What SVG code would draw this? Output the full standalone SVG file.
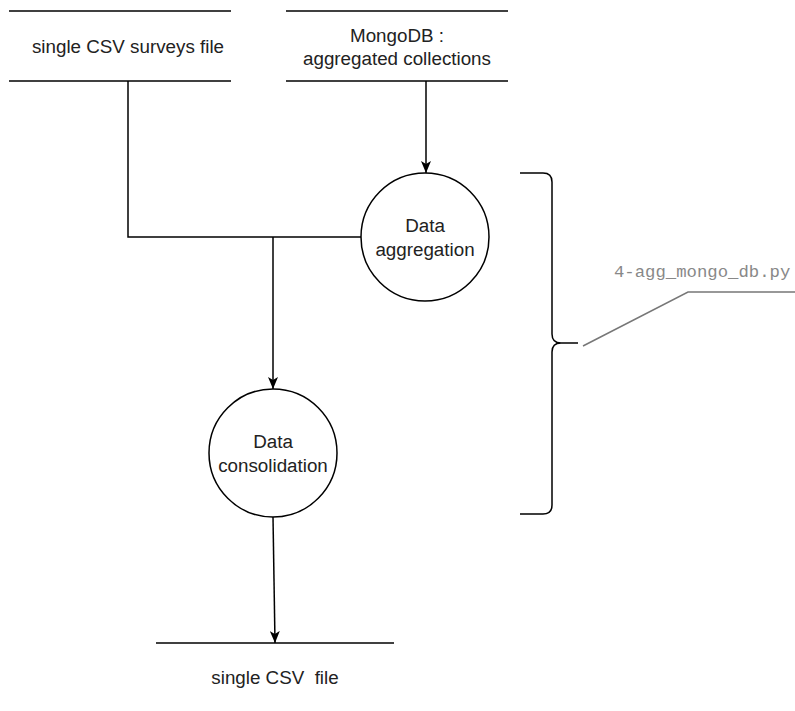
<svg xmlns="http://www.w3.org/2000/svg" width="795" height="711" viewBox="0 0 795 711">
<style>
.ln{stroke:#000;stroke-width:1.5;fill:none}
.nd{fill:#fff;stroke:#000;stroke-width:1.5}
.t{font-family:"Liberation Sans",Arial,sans-serif;font-size:18.8px;fill:#222;text-anchor:middle}
.mono{font-family:"Liberation Mono","Courier New",monospace;font-size:17.3px;fill:#888}
</style>
<defs>
<marker id="arr" viewBox="0 0 12 10" refX="12" refY="5" markerWidth="12" markerHeight="10" markerUnits="userSpaceOnUse" orient="auto">
<path d="M0,0 L12,5 L0,10 L3,5 Z" fill="#000"/>
</marker>
</defs>
<rect width="795" height="711" fill="#fff"/>
<g id="connectors">
<path class="ln" d="M426,81 L426,173" marker-end="url(#arr)"/>
<path class="ln" d="M128,81 L128,237 L361,237"/>
<path class="ln" d="M273,237 L273,389" marker-end="url(#arr)"/>
<path class="ln" d="M273,517 L275,643" marker-end="url(#arr)"/>
</g>
<g id="store-csv-surveys">
<line class="ln" x1="9" y1="11" x2="231" y2="11"/>
<line class="ln" x1="9" y1="81" x2="231" y2="81"/>
<text class="t" x="128" y="53">single CSV surveys file</text>
</g>
<g id="store-mongodb">
<line class="ln" x1="286" y1="11" x2="508" y2="11"/>
<line class="ln" x1="286" y1="81" x2="508" y2="81"/>
<text class="t" x="397" y="42">MongoDB :</text>
<text class="t" x="397" y="65">aggregated collections</text>
</g>
<g id="proc-aggregation">
<circle class="nd" cx="425" cy="237" r="64"/>
<text class="t" x="425" y="232">Data</text>
<text class="t" x="425" y="256">aggregation</text>
</g>
<g id="proc-consolidation">
<circle class="nd" cx="273" cy="453" r="64"/>
<text class="t" x="273" y="448">Data</text>
<text class="t" x="273" y="472">consolidation</text>
</g>
<g id="store-csv-out">
<line class="ln" x1="156" y1="643" x2="394" y2="643"/>
<text class="t" x="275" y="684" xml:space="preserve">single CSV  file</text>
</g>
<g id="brace-annotation">
<path class="ln" d="M520,173 L543,173 Q552,173 552,182 L552,334 Q552,343 561,343 L578,343 M561,343 Q552,343 552,352 L552,505 Q552,514 543,514 L520,514"/>
<path d="M583,346 L688,292 L795,292" stroke="#777" stroke-width="1.5" fill="none"/>
<text class="mono" x="614" y="277">4-agg_mongo_db.py</text>
</g>
</svg>
